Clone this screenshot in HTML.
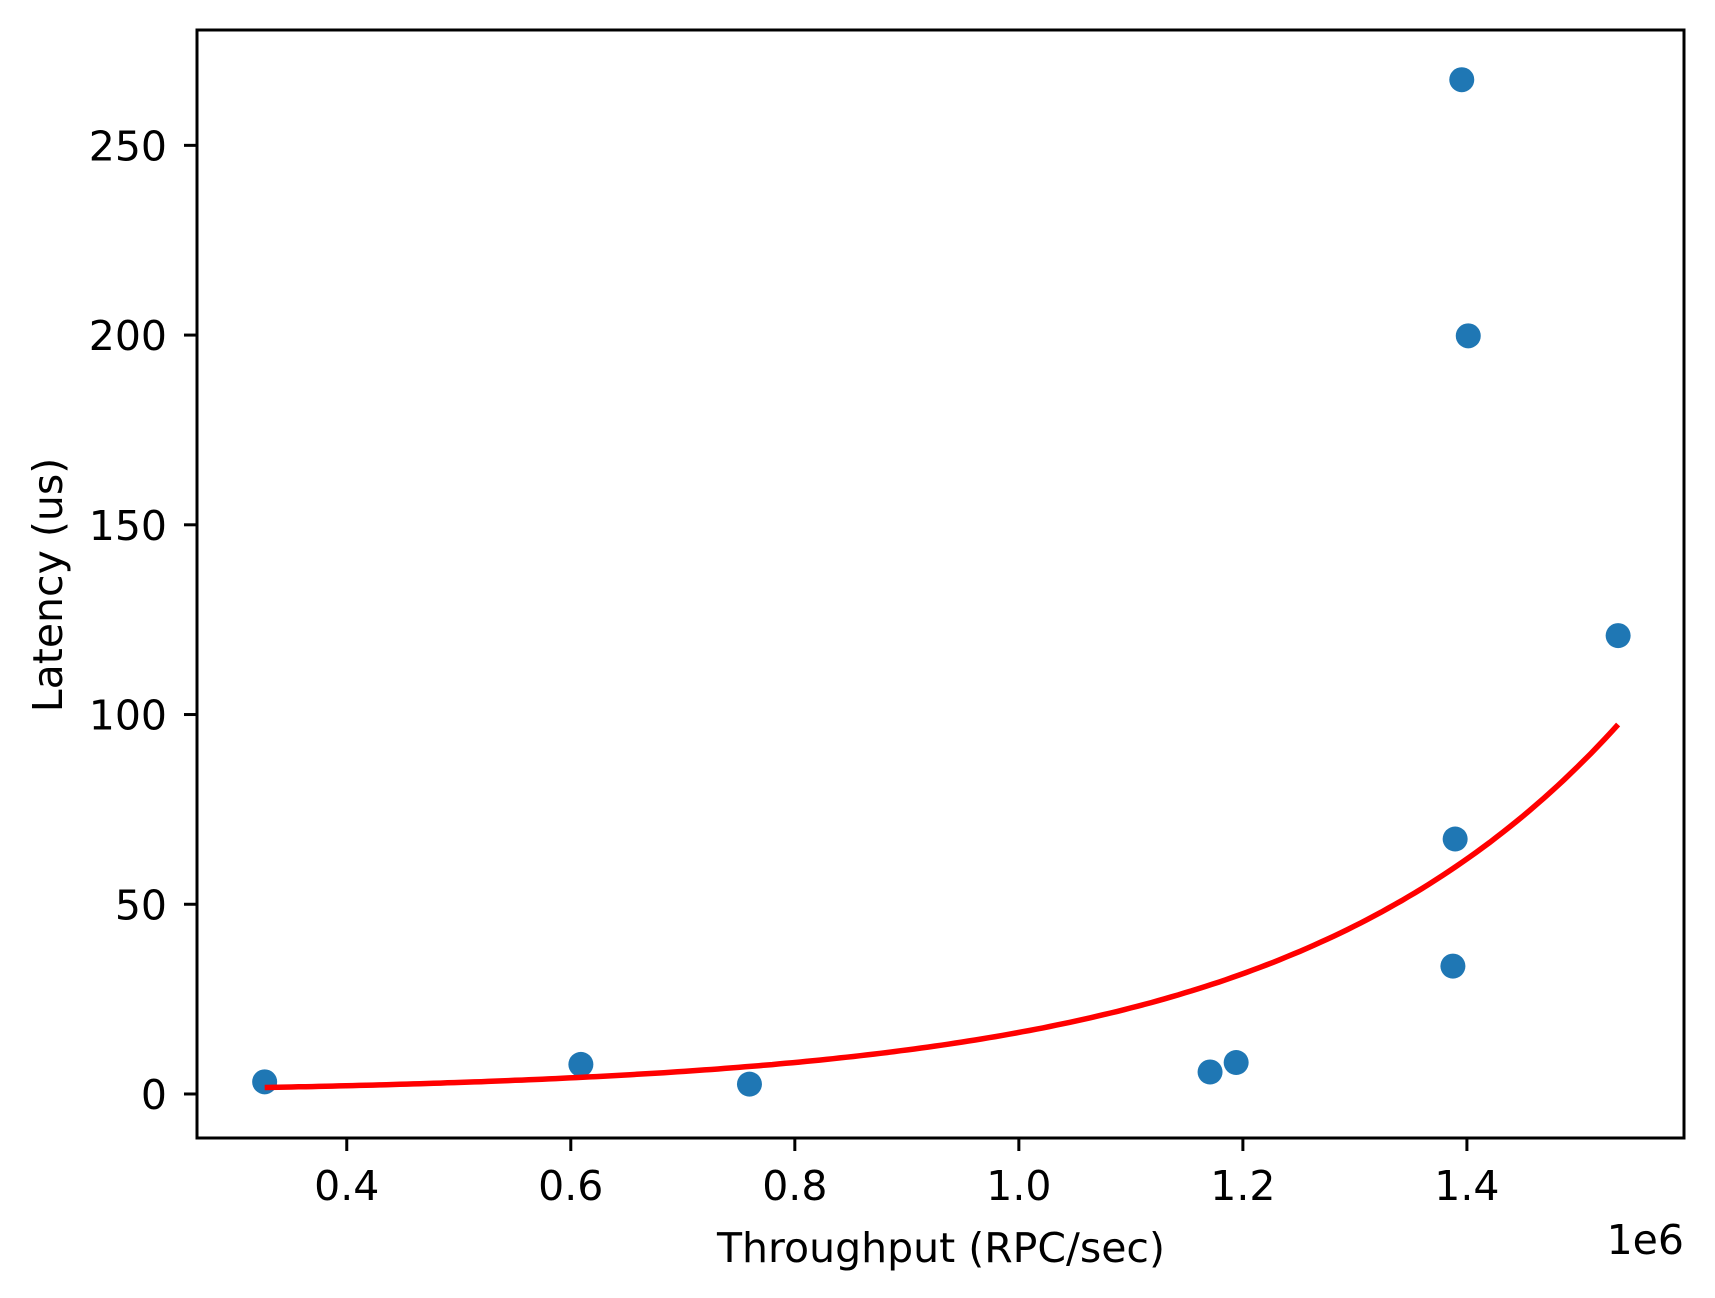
<!DOCTYPE html>
<html><head><meta charset="utf-8"><style>
html,body{margin:0;padding:0;background:#fff}
svg{display:block}
text{font-family:"DejaVu Sans","Liberation Sans",sans-serif;fill:#000}
</style></head><body>
<svg id="chart" width="1715" height="1298" xmlns="http://www.w3.org/2000/svg"></svg>
<script>
const throughput=[0.3267,0.609,0.7595,1.1707,1.194,1.3875,1.3895,1.3954,1.4012,1.535];
const latency=[3.2,7.8,2.6,5.8,8.3,33.7,67.2,267.3,199.8,120.8];
const xTicks=[0.4,0.6,0.8,1.0,1.2,1.4];
const xTickLabels=["0.4","0.6","0.8","1.0","1.2","1.4"];
const yTicks=[0,50,100,150,200,250];
const yTickLabels=["0","50","100","150","200","250"];
const fitParams=[1.7,3.35,0.3267];
const fitRange=[0.3267,1.535];

const L=197,R=1684,T=30,B=1138;
const xMin=0.2663,xMax=1.5938,yMin=-11.6,yMax=280.4;
const sx=v=>L+(v-xMin)/(xMax-xMin)*(R-L);
const sy=v=>B-(v-yMin)/(yMax-yMin)*(B-T);
const NS="http://www.w3.org/2000/svg";
const svg=document.getElementById('chart');
function mk(tag,attrs,parent){const e=document.createElementNS(NS,tag);for(const k in attrs)e.setAttribute(k,attrs[k]);(parent||svg).appendChild(e);return e;}
const FS=41;

let pts=[];
for(let i=0;i<=200;i++){const x=fitRange[0]+(fitRange[1]-fitRange[0])*i/200;const y=fitParams[0]*Math.exp(fitParams[1]*(x-fitParams[2]));pts.push(sx(x).toFixed(1)+','+sy(y).toFixed(1));}
throughput.forEach((x,i)=>{
 const c=mk('circle',{cx:sx(x),cy:sy(latency[i]),r:12.5,fill:'#1f77b4'});
 
 
});
const fit=mk('polyline',{points:pts.join(' '),fill:'none',stroke:'#ff0000','stroke-width':5.5});



const fr=mk('rect',{x:L,y:T,width:R-L,height:B-T,fill:'none',stroke:'#000','stroke-width':3});



xTicks.forEach((v,i)=>{
 const x=sx(v);
 const t=mk('line',{x1:x,x2:x,y1:B,y2:B+13,stroke:'#000','stroke-width':3});
 
 
 const l=mk('text',{x:x,y:B+62,'text-anchor':'middle','font-size':FS});
 l.textContent=xTickLabels[i];
 
 
});
yTicks.forEach((v,i)=>{
 const y=sy(v);
 const t=mk('line',{x1:L-13,x2:L,y1:y,y2:y,stroke:'#000','stroke-width':3});
 
 
 const l=mk('text',{x:167,y:y+15,'text-anchor':'end','font-size':FS});
 l.textContent=yTickLabels[i];
 
 
});
const xl=mk('text',{x:941,y:1262,'text-anchor':'middle','font-size':FS});
xl.textContent='Throughput (RPC/sec)';


const yl=mk('text',{x:62,y:585,'text-anchor':'middle','font-size':FS,transform:'rotate(-90 62 585)'});
yl.textContent='Latency (us)';


const off=mk('text',{x:1684,y:1254,'text-anchor':'end','font-size':FS});
off.textContent='1e6';


</script>
</body></html>
